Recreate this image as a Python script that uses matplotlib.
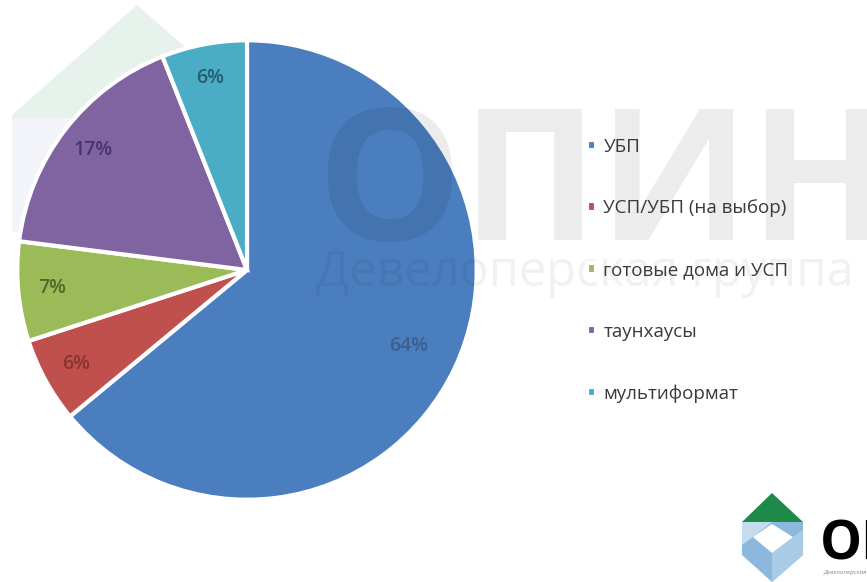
import numpy as np
import matplotlib.pyplot as plt
from matplotlib.patches import Polygon

plt.rcParams['font.family'] = ['Open Sans', 'DejaVu Sans']

# data
labels = ['УБП', 'УСП/УБП (на выбор)', 'готовые дома и УСП', 'таунхаусы', 'мультиформат']
shares = [64, 6, 7, 17, 6]
colors = ['#4a7ebf', '#c0504d', '#9bbb59', '#8064a2', '#4bacc6']
label_colors = ['#3d5f8f', '#8a3432', '#4f6a2a', '#4a3470', '#215f70']

W, H = 867, 582
fig = plt.figure(figsize=(W / 100, H / 100), dpi=100)
fig.patch.set_facecolor('white')

# faint logo shape behind the pie (pixel coords, y down)
bg = fig.add_axes([0, 0, 1, 1], zorder=-1)
bg.set_xlim(0, W)
bg.set_ylim(H, 0)
bg.axis('off')
bg.add_patch(Polygon([(12, 115), (137, 5), (240, 95), (240, 118), (12, 118)],
                     facecolor='#e8f2ec', edgecolor='none'))
bg.add_patch(Polygon([(12, 118), (120, 118), (120, 232), (12, 232)],
                     facecolor='#f3f4f9', edgecolor='none'))

# pie
cx, cy, r = 247, 270, 232
ax = fig.add_axes([(cx - r) / W, (H - cy - r) / H, 2 * r / W, 2 * r / H], zorder=1)
wedges, texts, autotexts = ax.pie(
    shares, colors=colors, startangle=90, counterclock=False,
    autopct='%d%%', pctdistance=0.85,
    wedgeprops=dict(edgecolor='white', linewidth=3),
    textprops=dict(fontsize=14, fontweight='semibold'))
for t, c in zip(autotexts, label_colors):
    t.set_color(c)
# big slice label sits a bit closer to the centre
th = np.deg2rad((wedges[0].theta1 + wedges[0].theta2) / 2)
autotexts[0].set_position((0.78 * np.cos(th), 0.78 * np.sin(th)))
ax.set_xlim(-1.01, 1.01)
ax.set_ylim(-1.01, 1.01)
ax.set_aspect('equal')
ax.axis('off')

# semi-transparent watermark over everything
top = fig.add_axes([0, 0, 1, 1], zorder=2)
top.set_xlim(0, W)
top.set_ylim(H, 0)
top.axis('off')
top.patch.set_alpha(0)
top.text(316, 240, 'ОПИН', fontsize=132, fontweight='bold', color='black',
         alpha=0.075, ha='left', va='baseline')
top.text(316, 286, 'Девелоперская группа', fontsize=35, color='black',
         alpha=0.055, ha='left', va='baseline', clip_on=True)

# legend
fig.legend(wedges, labels, loc='upper left', bbox_to_anchor=(579 / W, 1 - 130 / H),
           frameon=False, fontsize=13.5, labelcolor='#3a3a3a',
           handlelength=0.5, handleheight=0.5, handletextpad=0.4,
           labelspacing=2.33, borderaxespad=0).set_zorder(3)

# logo in the corner
la = fig.add_axes([730 / W, 0, 137 / W, 110 / H], zorder=3)
la.set_xlim(730, 867)
la.set_ylim(582, 472)
la.axis('off')
la.add_patch(Polygon([(742, 522), (772, 493), (803, 522)], facecolor='#1e8a4a', edgecolor='none'))
la.add_patch(Polygon([(742, 522), (803, 522), (803, 555), (772, 582), (742, 555)],
                     facecolor='#8db8dd', edgecolor='none'))
la.add_patch(Polygon([(742, 522), (772, 522), (753, 537), (742, 545)],
                     facecolor='#c3dcef', edgecolor='none'))
la.add_patch(Polygon([(772, 553), (793, 537), (803, 530), (803, 555), (772, 582)],
                     facecolor='#a9cbe6', edgecolor='none'))
la.add_patch(Polygon([(753, 537), (772, 524), (793, 537), (772, 553)],
                     facecolor='white', edgecolor='none'))
la.text(820, 545, 'ОП', fontsize=38, fontweight='bold', color='black',
        ha='left', va='center')
la.text(824, 572, 'Девелоперская', fontsize=4.5, color='#888888', style='italic',
        ha='left', va='center')

fig.savefig('out.png', dpi=100)
